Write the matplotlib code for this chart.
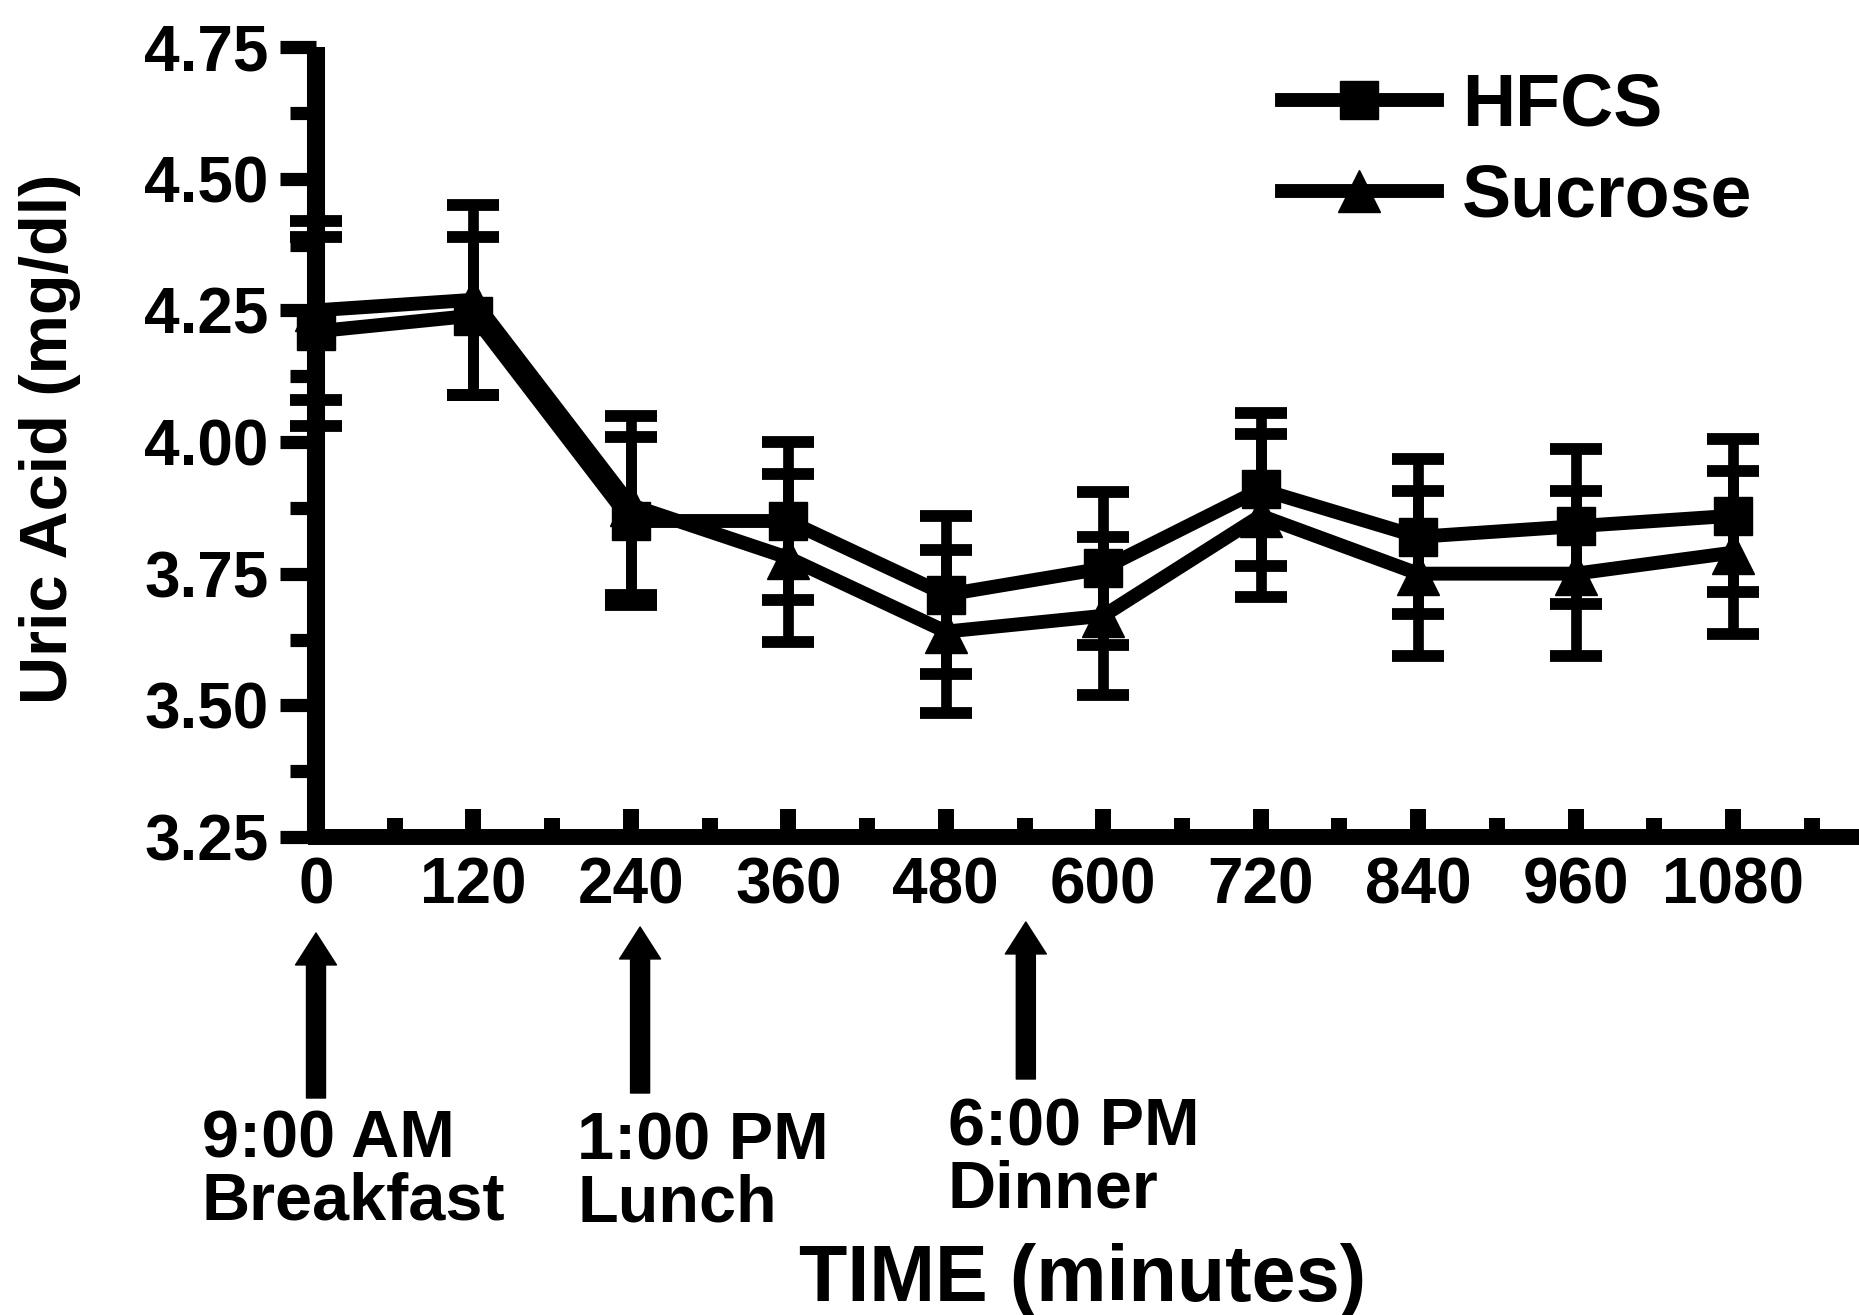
import matplotlib
matplotlib.use('Agg')
import matplotlib.pyplot as plt
from matplotlib.ticker import MultipleLocator, FormatStrFormatter

plt.rcParams['font.family'] = ['Liberation Sans', 'DejaVu Sans']
plt.rcParams['font.weight'] = 'bold'

# data (uric acid, mg/dl, mean +- error)
time_min = [0, 120, 240, 360, 480, 600, 720, 840, 960, 1080]
hfcs = [4.21, 4.24, 3.85, 3.85, 3.71, 3.76, 3.91, 3.82, 3.84, 3.86]
hfcs_err = [0.18, 0.15, 0.16, 0.15, 0.15, 0.145, 0.145, 0.147, 0.147, 0.145]
sucrose = [4.25, 4.27, 3.88, 3.78, 3.64, 3.67, 3.86, 3.75, 3.75, 3.79]
sucrose_err = [0.17, 0.18, 0.17, 0.16, 0.155, 0.15, 0.155, 0.157, 0.157, 0.155]

meal_labels = ['9:00 AM\nBreakfast', '1:00 PM\nLunch', '6:00 PM\nDinner']
meal_arrow_x = [0, 247, 541]

W, H = 1859, 1315
fig = plt.figure(figsize=(W / 100, H / 100), dpi=100)
ax = fig.add_axes([316 / W, 1 - 837 / H, (W - 316) / W, (837 - 47) / H])

# error bars first, lines on top
for y, e in [(hfcs, hfcs_err), (sucrose, sucrose_err)]:
    eb = ax.errorbar(time_min, y, yerr=e, fmt='none', ecolor='black',
                     elinewidth=7.7, capsize=19, capthick=8.5, zorder=1.9)
    for art in eb.lines[1] + eb.lines[2]:
        art.set_clip_on(False)

l1, = ax.plot(time_min, hfcs, color='black', lw=10, marker='s', ms=28,
              clip_on=False, zorder=2, label='HFCS')
l2, = ax.plot(time_min, sucrose, color='black', lw=10, marker='^', ms=30,
              clip_on=False, zorder=2, label='Sucrose')

ax.set_xlim(0, 1176)
ax.set_ylim(3.25, 4.75)
ax.spines['top'].set_visible(False)
ax.spines['right'].set_visible(False)
ax.spines['left'].set_linewidth(13)
ax.spines['bottom'].set_linewidth(11.5)
ax.spines['left'].set_capstyle('butt')

ax.xaxis.set_major_locator(MultipleLocator(120))
ax.xaxis.set_minor_locator(MultipleLocator(60))
ax.yaxis.set_major_locator(MultipleLocator(0.25))
ax.yaxis.set_minor_locator(MultipleLocator(0.125))
ax.yaxis.set_major_formatter(FormatStrFormatter('%.2f'))
ax.set_xticks(time_min)

ax.tick_params(axis='y', which='major', direction='out', length=26, width=9.5,
               pad=8, labelsize=46)
ax.tick_params(axis='y', which='minor', direction='out', length=19, width=9.5)
ax.tick_params(axis='x', which='major', direction='in', length=20, width=11.5,
               pad=14, labelsize=46)
ax.tick_params(axis='x', which='minor', direction='in', length=14, width=11.5)
for lab in ax.get_xticklabels() + ax.get_yticklabels():
    lab.set_fontweight('bold')

fig.text(50 / W, 1 - 439 / H, 'Uric Acid (mg/dl)', rotation=90, ha='center',
         va='center', fontsize=48, fontweight='bold')
fig.text(1083 / W, 1 - 1280 / H, 'TIME (minutes)', ha='center', va='center',
         fontsize=57, fontweight='bold')

leg = fig.legend(handles=[l1, l2], loc='upper left',
                 bbox_to_anchor=(1282 / W, 1 - 72 / H), frameon=False,
                 fontsize=53, handlelength=2.1, handletextpad=0.35,
                 labelspacing=0.3, borderpad=0, borderaxespad=0, numpoints=1)
for t in leg.get_texts():
    t.set_fontweight('bold')

# meal arrows below the axis
tips = [933, 927, 922]
tails = [1098, 1093, 1079]
text_pos = [(202, 1110), (577, 1112), (948, 1098)]
for x, tip, tail, lab, (tx, ty) in zip(meal_arrow_x, tips, tails, meal_labels, text_pos):
    ax.annotate('', xy=(x, H - tip), xycoords=('data', 'figure pixels'),
                xytext=(x, H - tail), textcoords=('data', 'figure pixels'),
                arrowprops=dict(width=13.7, headwidth=29.5, headlength=23,
                                shrink=0, facecolor='black', edgecolor='black'),
                annotation_clip=False)
    fig.text(tx / W, 1 - ty / H, lab, ha='left', va='top', fontsize=48,
             fontweight='bold', linespacing=1.0)

fig.savefig('out.png', dpi=100)
